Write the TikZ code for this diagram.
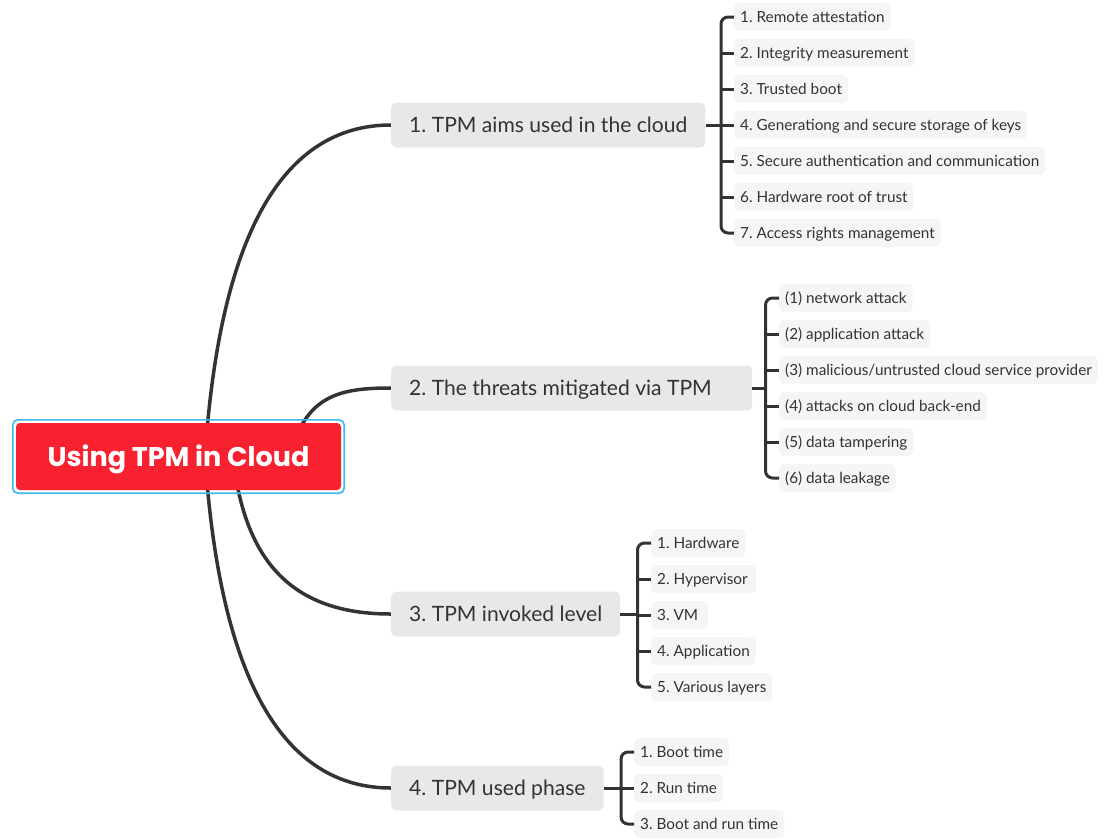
\documentclass[tikz,border=0pt]{standalone}
\usepackage{fontspec}
\setmainfont{Lato}
\newfontfamily\rootfont{Poppins}
\usetikzlibrary{backgrounds,calc}
\definecolor{ink}{HTML}{333333}
\definecolor{rootred}{HTML}{F7212F}
\definecolor{rootblue}{HTML}{3DB8F2}
\definecolor{branchgray}{HTML}{E8E8E8}
\definecolor{leafgray}{HTML}{F5F5F5}
\frenchspacing
\begin{document}
\begin{tikzpicture}[x=1pt,y=-1pt,
  rootbox/.style={fill=rootred, text=white, font=\rootfont\fontsize{27}{32}\selectfont\bfseries,
    rounded corners=4pt, minimum width=325pt, minimum height=67pt, inner sep=0pt,
    text height=19pt, text depth=0pt},
  branch/.style={fill=branchgray, text=ink, font=\fontsize{21.1}{25}\selectfont,
    rounded corners=5pt, anchor=west, minimum height=45pt, inner xsep=18pt, inner ysep=0pt,
    text height=15.2pt, text depth=0pt},
  leaf/.style={fill=leafgray, text=ink, font=\fontsize{15.3}{18}\selectfont,
    rounded corners=5pt, anchor=west, minimum height=28pt, inner xsep=6pt, inner ysep=0pt,
    text height=11pt, text depth=0pt},
  link/.style={draw=ink, line width=3.5pt},
  brk/.style={draw=ink, line width=3pt, rounded corners=7pt},
  tick/.style={draw=ink, line width=3pt}]
\useasboundingbox (0,0) rectangle (1110,839);

% root
\node[rootbox] (root) at (178.5,456.5) {Using TPM in Cloud};
\draw[rootblue, line width=1.6pt, rounded corners=5pt]
  ([shift={(-3,-3)}]root.north west) rectangle ([shift={(3,3)}]root.south east);

% branches
\node[branch] (b1) at (391,125) {1. TPM aims used in the cloud};
\node[branch] (b2) at (391,388) {\makebox[325pt][l]{2. The threats mitigated via TPM}};
\node[branch] (b3) at (391,614) {3. TPM invoked level};
\node[branch] (b4) at (391,788) {4. TPM used phase};

% leaves of branch 1
\node[leaf] (a1) at (734,17)  {1. Remote attestation};
\node[leaf] (a2) at (734,53)  {2. Integrity measurement};
\node[leaf] (a3) at (734,89)  {3. Trusted boot};
\node[leaf] (a4) at (734,125) {4. Generationg and secure storage of keys};
\node[leaf] (a5) at (734,161) {5. Secure authentication and communication};
\node[leaf] (a6) at (734,197) {6. Hardware root of trust};
\node[leaf] (a7) at (734,233) {7. Access rights management};

% leaves of branch 2
\node[leaf] (t1) at (779,298) {(1) network attack};
\node[leaf] (t2) at (779,334) {(2) application attack};
\node[leaf] (t3) at (779,370) {(3) malicious/untrusted cloud service provider};
\node[leaf] (t4) at (779,406) {(4) attacks on cloud back-end};
\node[leaf] (t5) at (779,442) {(5) data tampering};
\node[leaf] (t6) at (779,478) {(6) data leakage};

% leaves of branch 3
\node[leaf] (v1) at (651,543) {1. Hardware};
\node[leaf] (v2) at (651,579) {\makebox[93pt][l]{2. Hypervisor}};
\node[leaf] (v3) at (651,615) {\makebox[45pt][l]{3. VM}};
\node[leaf] (v4) at (651,651) {4. Application};
\node[leaf] (v5) at (651,687) {5. Various layers};

% leaves of branch 4
\node[leaf] (p1) at (634,752) {1. Boot time};
\node[leaf] (p2) at (634,788) {2. Run time};
\node[leaf] (p3) at (634,824) {3. Boot and run time};

% bracket junctions
\coordinate (k1) at (721,125);
\coordinate (k2) at (765.5,388);
\coordinate (k3) at (637.5,614);
\coordinate (k4) at (621,788);

\begin{scope}[on background layer]
  \draw[link] ($(root.center)+(26.5,0)$) .. controls (220,230) and (285,125) .. (b1.west);
  \draw[link] ($(root.center)+(111.5,0)$) .. controls (305,395) and (340,388) .. (b2.west);
  \draw[link] ($(root.center)+(54.5,0)$) .. controls (245,570) and (300,614) .. (b3.west);
  \draw[link] ($(root.center)+(26.5,0)$) .. controls (220,683) and (285,788) .. (b4.west);
\end{scope}

% branch 1 bracket
\draw[tick] (b1.east) -- (k1);
\draw[brk] (a1.west) -- (k1 |- a1.west) -- (k1 |- a7.west) -- (a7.west);
\foreach \n in {a2,a3,a4,a5,a6} \draw[tick] (k1 |- \n.west) -- (\n.west);

% branch 2 bracket
\draw[tick] (b2.east) -- (k2);
\draw[brk] (t1.west) -- (k2 |- t1.west) -- (k2 |- t6.west) -- (t6.west);
\foreach \n in {t2,t3,t4,t5} \draw[tick] (k2 |- \n.west) -- (\n.west);

% branch 3 bracket
\draw[tick] (b3.east) -- (k3);
\draw[brk] (v1.west) -- (k3 |- v1.west) -- (k3 |- v5.west) -- (v5.west);
\foreach \n in {v2,v3,v4} \draw[tick] (k3 |- \n.west) -- (\n.west);

% branch 4 bracket
\draw[tick] (b4.east) -- (k4);
\draw[brk] (p1.west) -- (k4 |- p1.west) -- (k4 |- p3.west) -- (p3.west);
\foreach \n in {p2} \draw[tick] (k4 |- \n.west) -- (\n.west);
\end{tikzpicture}
\end{document}
